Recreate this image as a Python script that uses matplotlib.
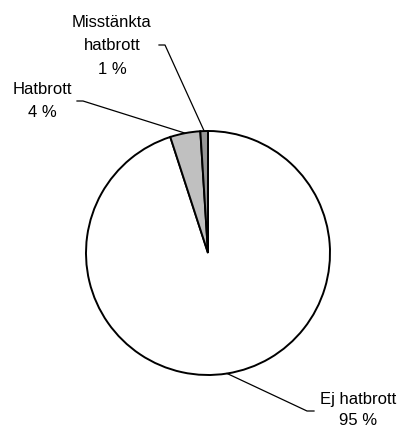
import matplotlib.pyplot as plt
import numpy as np

plt.rcParams['font.family'] = ['Liberation Sans', 'DejaVu Sans']

# data
labels = ["Ej hatbrott", "Hatbrott", "Misstänkta\nhatbrott"]
values = [95, 4, 1]
colors = ["white", "#c0c0c0", "#969696"]

W, H = 402, 430
cx, cy, R = 208, 253, 122  # pie centre / radius in pixels

fig = plt.figure(figsize=(W / 100, H / 100), dpi=100)
ax = fig.add_axes([0, 0, 1, 1])
ax.axis("off")

wedges, _ = ax.pie(values, colors=colors, startangle=90, counterclock=False,
                   radius=1, wedgeprops=dict(edgecolor="black", linewidth=1.4))
ax.set_aspect("auto")
ax.set_xlim(-cx / R, (W - cx) / R)
ax.set_ylim(-(H - cy) / R, cy / R)


def px(x, y):
    # pixel (from top-left) -> data
    return (x - cx) / R, (cy - y) / R


# label layout: elbow point, tick end, text centre, line spacing
layout = [
    ((307, 411), (314, 411), (358, 410), 1.5),
    ((83, 101), (77, 101), (42, 101), 1.7),
    ((165, 45), (159, 45), (112, 46), 1.7),
]

for w, v, lab, (elb, tick, tpos, ls) in zip(wedges, values, labels, layout):
    ang = np.deg2rad((w.theta1 + w.theta2) / 2)
    ex, ey = np.cos(ang), np.sin(ang)
    bx, by = px(*elb)
    tx, ty = px(*tick)
    ax.plot([ex, bx, tx], [ey, by, ty], color="black", lw=0.9)
    ax.text(*px(*tpos), f"{lab}\n{v} %", ha="center", va="center",
            fontsize=12, linespacing=ls)

fig.savefig("out.png", dpi=100)
